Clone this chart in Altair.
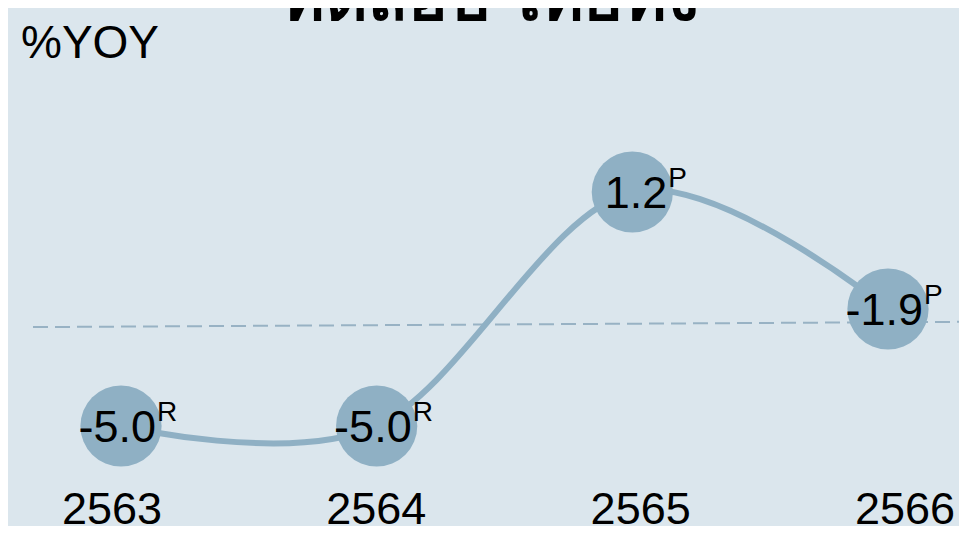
import altair as alt
import pandas as pd

years = ["2563", "2564", "2565", "2566"]
values = [-5.0, -5.0, 1.2, -1.9]
value_labels = ["-5.0", "-5.0", "1.2", "-1.9"]
flags = ["R", "R", "P", "P"]
ref_values = [-2.38, -2.24]
title_text = ["ทดสอบ ไทยทั้ง"]
unit_text = ["%YOY"]

df = pd.DataFrame({"year": years, "value": values, "label": value_labels, "flag": flags})

COLOR = "#8fb0c4"
FONT = "Liberation Sans"
BG = "#dbe6ed"

xscale = alt.Scale(type="point", range=[113, 880], padding=0)
yscale = alt.Scale(domain=[-5, 1.2], range=[418, 184], zero=False, nice=False)

x = alt.X("year:O", scale=xscale, axis=None)
y = alt.Y("value:Q", scale=yscale, axis=None)

base = alt.Chart(df)
line = base.mark_line(interpolate="cardinal", strokeWidth=6, color=COLOR).encode(x=x, y=y)
dots = base.mark_circle(size=6600, color=COLOR, opacity=1).encode(x=x, y=y)
vals = base.mark_text(fontSize=45, font=FONT, align="right", baseline="middle",
                      dx=35, dy=2, color="black").encode(x=x, y=y, text="label:N")
sups = base.mark_text(fontSize=28, font=FONT, align="left", baseline="alphabetic",
                      dx=36, dy=-5, color="black").encode(x=x, y=y, text="flag:N")

ref_df = pd.DataFrame({"a": [ref_values[0]], "b": [ref_values[1]]})
ref = alt.Chart(ref_df).mark_rule(strokeDash=[15, 7], strokeWidth=2, color="#98b2c4").encode(
    x=alt.value(25), x2=alt.value(952),
    y=alt.Y("a:Q", scale=yscale, axis=None), y2="b:Q")

unit = alt.Chart(pd.DataFrame({"t": unit_text})).mark_text(
    fontSize=46, font=FONT, align="left", baseline="alphabetic", color="black").encode(
    text="t:N", x=alt.value(13), y=alt.value(50))

title = alt.Chart(pd.DataFrame({"t": title_text})).mark_text(
    fontSize=66, fontWeight="bold", font="Noto Sans", align="center", baseline="alphabetic",
    color="black").encode(text="t:N", x=alt.value(482), y=alt.value(12))

# year labels, on their own point scale so they spread a little wider than the markers
year_labels = alt.Chart(df).mark_text(
    fontSize=45, font=FONT, align="center", baseline="alphabetic", color="black").encode(
    x=alt.X("year:O", scale=alt.Scale(type="point", range=[104, 897], padding=0), axis=None),
    y=alt.value(516), text="year:N")

main = alt.layer(ref, line, dots, vals, sups, unit, title)

chart = alt.layer(main, year_labels).resolve_scale(x="independent").properties(
    width=951, height=470,
    padding={"left": 0, "top": 0, "right": 0, "bottom": 48},
    autosize=alt.AutoSizeParams(type="none"),
    background=BG,
).configure_view(stroke=None)

chart.save("out.html", embed_options={"renderer": "svg", "actions": False})
